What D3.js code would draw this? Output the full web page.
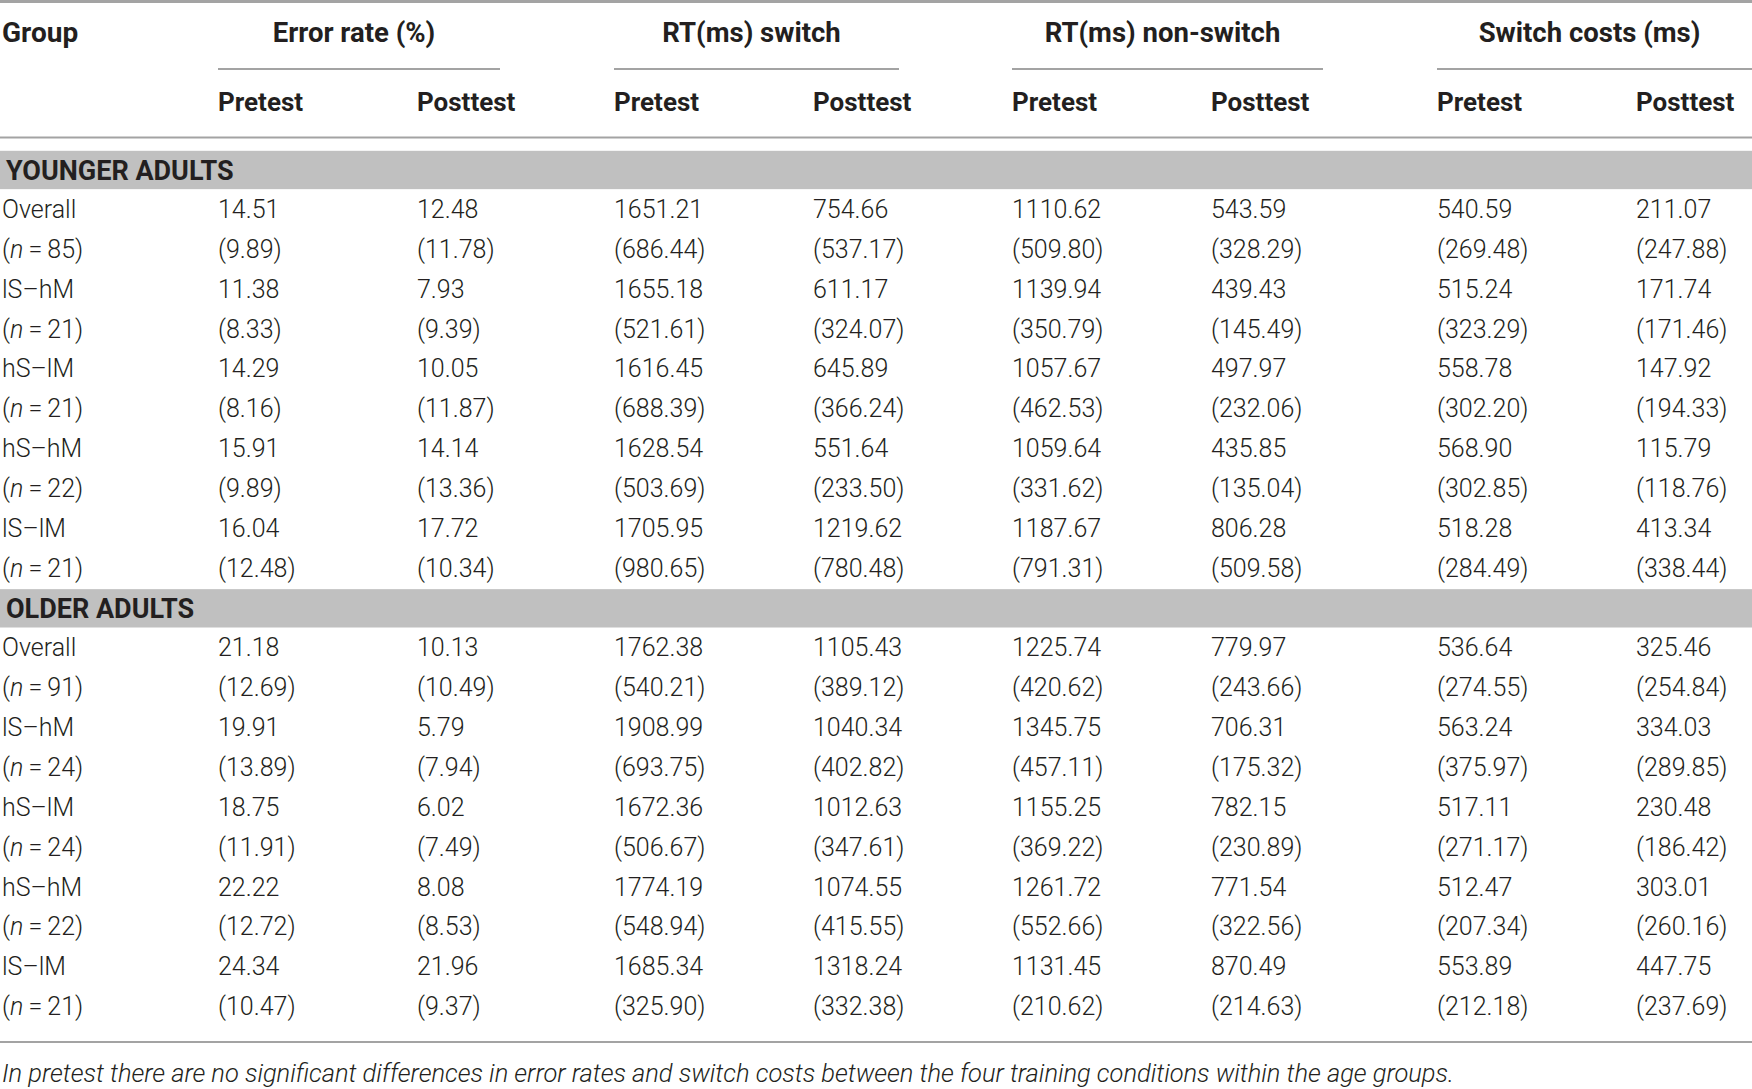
<!DOCTYPE html>
<html>
<head>
<meta charset="utf-8">
<script src="https://cdn.jsdelivr.net/npm/d3@7"></script>
<style>
  html, body { margin: 0; padding: 0; background: #fff; }
  svg { display: block; }
  text { fill: #231f20; font-family: Roboto, "Liberation Sans", sans-serif; }
  .head { font-weight: 700; font-size: 26px; }
  .cell { font-weight: 300; font-size: 25px; }
  .note { font-weight: 300; font-style: italic; font-size: 25.5px; }
</style>
</head>
<body>
<div id="container"></div>
<script>
const w = 1752;
const h = 1089;

const measures = ["Error rate (%)", "RT(ms) switch", "RT(ms) non-switch", "Switch costs (ms)"];
const phases = ["Pretest", "Posttest"];
const ageGroups = ["YOUNGER ADULTS", "OLDER ADULTS"];
const conditions = ["Overall", "lS–hM", "hS–lM", "hS–hM", "lS–lM"];
const youngerN = [85, 21, 21, 22, 21];
const olderN = [91, 24, 24, 22, 21];

// columns: error pre/post, RT switch pre/post, RT non-switch pre/post, switch costs pre/post
const youngerMeans = [
  ["14.51", "12.48", "1651.21", "754.66", "1110.62", "543.59", "540.59", "211.07"],
  ["11.38", "7.93", "1655.18", "611.17", "1139.94", "439.43", "515.24", "171.74"],
  ["14.29", "10.05", "1616.45", "645.89", "1057.67", "497.97", "558.78", "147.92"],
  ["15.91", "14.14", "1628.54", "551.64", "1059.64", "435.85", "568.90", "115.79"],
  ["16.04", "17.72", "1705.95", "1219.62", "1187.67", "806.28", "518.28", "413.34"]
];
const youngerSD = [
  ["9.89", "11.78", "686.44", "537.17", "509.80", "328.29", "269.48", "247.88"],
  ["8.33", "9.39", "521.61", "324.07", "350.79", "145.49", "323.29", "171.46"],
  ["8.16", "11.87", "688.39", "366.24", "462.53", "232.06", "302.20", "194.33"],
  ["9.89", "13.36", "503.69", "233.50", "331.62", "135.04", "302.85", "118.76"],
  ["12.48", "10.34", "980.65", "780.48", "791.31", "509.58", "284.49", "338.44"]
];
const olderMeans = [
  ["21.18", "10.13", "1762.38", "1105.43", "1225.74", "779.97", "536.64", "325.46"],
  ["19.91", "5.79", "1908.99", "1040.34", "1345.75", "706.31", "563.24", "334.03"],
  ["18.75", "6.02", "1672.36", "1012.63", "1155.25", "782.15", "517.11", "230.48"],
  ["22.22", "8.08", "1774.19", "1074.55", "1261.72", "771.54", "512.47", "303.01"],
  ["24.34", "21.96", "1685.34", "1318.24", "1131.45", "870.49", "553.89", "447.75"]
];
const olderSD = [
  ["12.69", "10.49", "540.21", "389.12", "420.62", "243.66", "274.55", "254.84"],
  ["13.89", "7.94", "693.75", "402.82", "457.11", "175.32", "375.97", "289.85"],
  ["11.91", "7.49", "506.67", "347.61", "369.22", "230.89", "271.17", "186.42"],
  ["12.72", "8.53", "548.94", "415.55", "552.66", "322.56", "207.34", "260.16"],
  ["10.47", "9.37", "325.90", "332.38", "210.62", "214.63", "212.18", "237.69"]
];
const footnote = "In pretest there are no significant differences in error rates and switch costs between the four training conditions within the age groups.";

// build the row list: band row, then mean row and (n=..) row per condition
const rows = [];
[[youngerMeans, youngerSD, youngerN], [olderMeans, olderSD, olderN]].forEach(([means, sds, ns], g) => {
  rows.push({ type: "band", label: ageGroups[g] });
  conditions.forEach((c, i) => {
    rows.push({ type: "mean", label: c, values: means[i] });
    rows.push({ type: "sd", n: ns[i], values: sds[i].map(v => "(" + v + ")") });
  });
});

const svg = d3.select("#container")
  .append("svg")
  .attr("width", w)
  .attr("height", h);

svg.append("rect").attr("width", w).attr("height", h).attr("fill", "#fff");

const groupX = d3.scaleOrdinal().domain(measures).range([218, 614, 1012, 1437]);
const spanEnd = d3.scaleOrdinal().domain(measures).range([500, 899, 1323, w]);
const phaseX = d3.scalePoint().domain(phases).range([0, 199]);
const colX = i => groupX(measures[Math.floor(i / 2)]) + phaseX(phases[i % 2]);

const rowH = 39.85;
const yScale = d3.scaleBand()
  .domain(d3.range(rows.length))
  .range([149.3, 149.3 + rows.length * rowH]);

const lineColor = "#a3a3a3";

// rules
svg.append("line").attr("x1", 0).attr("x2", w).attr("y1", 1.5).attr("y2", 1.5)
  .attr("stroke", lineColor).attr("stroke-width", 3);
svg.append("line").attr("x1", 0).attr("x2", w).attr("y1", 137.5).attr("y2", 137.5)
  .attr("stroke", lineColor).attr("stroke-width", 2);
svg.append("line").attr("x1", 0).attr("x2", w)
  .attr("y1", yScale.range()[1] + 16).attr("y2", yScale.range()[1] + 16)
  .attr("stroke", lineColor).attr("stroke-width", 2);

// header
svg.append("text").attr("class", "head").attr("x", 2).attr("y", 32).attr("dy", "0.36em")
  .style("font-size", "28px").text("Group");

const heads = svg.selectAll("g.measure")
  .data(measures)
  .enter()
  .append("g")
  .attr("class", "measure");

heads.append("text")
  .attr("class", "head")
  .attr("x", d => (groupX(d) + spanEnd(d)) / 2 - 5)
  .attr("y", 32)
  .attr("dy", "0.36em")
  .attr("text-anchor", "middle")
  .style("font-size", "27.5px")
  .text(d => d);

heads.append("line")
  .attr("x1", d => groupX(d))
  .attr("x2", d => spanEnd(d))
  .attr("y1", 69)
  .attr("y2", 69)
  .attr("stroke", lineColor)
  .attr("stroke-width", 2);

heads.selectAll("text.phase")
  .data(d => phases.map(p => ({ m: d, p })))
  .enter()
  .append("text")
  .attr("class", "head phase")
  .attr("x", d => groupX(d.m) + phaseX(d.p))
  .attr("y", 102)
  .attr("dy", "0.36em")
  .text(d => d.p);

// body rows
const rowG = svg.selectAll("g.row")
  .data(rows)
  .enter()
  .append("g")
  .attr("class", "row")
  .attr("transform", (d, i) => "translate(0," + yScale(i) + ")");

rowG.filter(d => d.type === "band")
  .append("rect")
  .attr("x", 0)
  .attr("y", 1.5)
  .attr("width", w)
  .attr("height", yScale.bandwidth() - 1.5)
  .attr("fill", "#c0c0c0");

rowG.filter(d => d.type === "band")
  .append("text")
  .attr("class", "head")
  .attr("x", 6)
  .attr("y", yScale.bandwidth() / 2 + 1)
  .attr("dy", "0.36em")
  .style("font-size", "27px")
  .text(d => d.label);

rowG.filter(d => d.type === "mean")
  .append("text")
  .attr("class", "cell")
  .attr("x", 2)
  .attr("y", yScale.bandwidth() / 2)
  .attr("dy", "0.36em")
  .text(d => d.label);

const nLabel = rowG.filter(d => d.type === "sd")
  .append("text")
  .attr("class", "cell")
  .attr("x", 2)
  .attr("y", yScale.bandwidth() / 2)
  .attr("dy", "0.36em");
nLabel.append("tspan").text("(");
nLabel.append("tspan").style("font-style", "italic").text("n");
nLabel.append("tspan").text(d => "\u2009=\u2009" + d.n + ")");

rowG.filter(d => d.type !== "band")
  .selectAll("text.val")
  .data(d => d.values)
  .enter()
  .append("text")
  .attr("class", "cell val")
  .attr("x", (d, i) => colX(i))
  .attr("y", yScale.bandwidth() / 2)
  .attr("dy", "0.36em")
  .text(d => d);

svg.append("text")
  .attr("class", "note")
  .attr("x", 2)
  .attr("y", 1082)
  .attr("textLength", 1452)
  .attr("lengthAdjust", "spacing")
  .text(footnote);
</script>
</body>
</html>
